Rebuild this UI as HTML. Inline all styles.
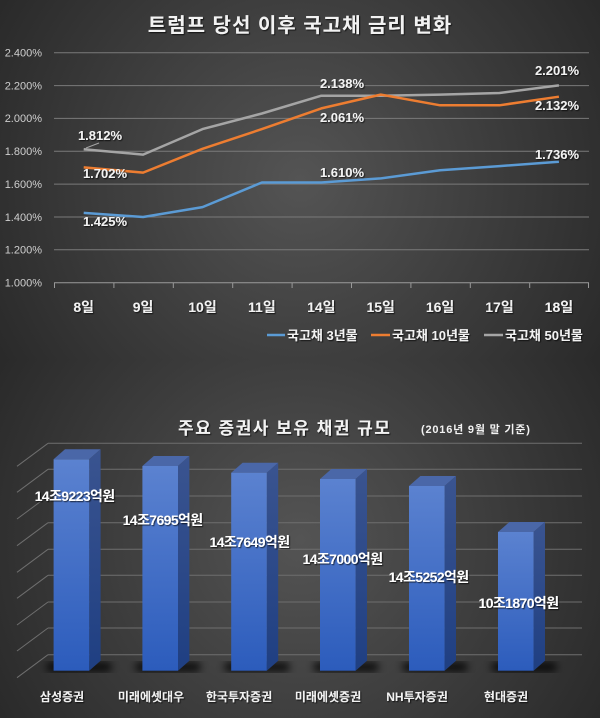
<!DOCTYPE html>
<html><head><meta charset="utf-8"><style>
html,body{margin:0;padding:0;}
body{width:600px;height:718px;overflow:hidden;background:#333;}
svg{display:block;font-family:"Liberation Sans","Noto Sans CJK KR",sans-serif;}
</style></head><body>
<svg width="600" height="718" viewBox="0 0 600 718" xmlns="http://www.w3.org/2000/svg">
<defs>
<radialGradient id="bg1" cx="300" cy="180" r="380" gradientUnits="userSpaceOnUse">
<stop offset="0" stop-color="#545454"/><stop offset="1" stop-color="#262626"/></radialGradient>
<radialGradient id="bg2" cx="300" cy="540" r="380" gradientUnits="userSpaceOnUse">
<stop offset="0" stop-color="#545454"/><stop offset="1" stop-color="#262626"/></radialGradient>
<linearGradient id="front" x1="0" y1="0" x2="0" y2="1"><stop offset="0" stop-color="#5b82d0"/><stop offset="1" stop-color="#2c5cbc"/></linearGradient>
<linearGradient id="side" x1="0" y1="0" x2="0" y2="1"><stop offset="0" stop-color="#3a5490"/><stop offset="1" stop-color="#1f3f82"/></linearGradient>
<filter id="blur"><feGaussianBlur stdDeviation="4"/></filter>
<filter id="ts"><feDropShadow dx="1" dy="1" stdDeviation="0.6" flood-color="#000" flood-opacity="0.7"/></filter>
</defs>
<rect x="0" y="0" width="600" height="360" fill="url(#bg1)"/>
<rect x="0" y="360" width="600" height="358" fill="url(#bg2)"/>

<text x="300" y="32" text-anchor="middle" font-size="20" font-weight="bold" fill="#f2f2f2" filter="url(#ts)" letter-spacing="1">트럼프 당선 이후 국고채 금리 변화</text>
<g stroke="#7a7a7a" stroke-width="1">
<line x1="54" x2="589" y1="52.7" y2="52.7"/><line x1="54" x2="589" y1="85.6" y2="85.6"/>
<line x1="54" x2="589" y1="118.4" y2="118.4"/><line x1="54" x2="589" y1="151.3" y2="151.3"/>
<line x1="54" x2="589" y1="184.1" y2="184.1"/><line x1="54" x2="589" y1="217" y2="217"/>
<line x1="54" x2="589" y1="249.8" y2="249.8"/>
</g>
<g stroke="#9a9a9a" stroke-width="1">
<line x1="54" x2="589" y1="282.7" y2="282.7"/>
<line x1="54.5" x2="54.5" y1="282.7" y2="288"/><line x1="113.9" x2="113.9" y1="282.7" y2="288"/>
<line x1="173.3" x2="173.3" y1="282.7" y2="288"/><line x1="232.7" x2="232.7" y1="282.7" y2="288"/>
<line x1="292.1" x2="292.1" y1="282.7" y2="288"/><line x1="351.5" x2="351.5" y1="282.7" y2="288"/>
<line x1="410.9" x2="410.9" y1="282.7" y2="288"/><line x1="470.3" x2="470.3" y1="282.7" y2="288"/>
<line x1="529.7" x2="529.7" y1="282.7" y2="288"/><line x1="588.5" x2="588.5" y1="282.7" y2="288"/>
</g>
<g font-size="11" fill="#cfcfcf" text-anchor="end">
<text x="42" y="56.5">2.400%</text><text x="42" y="89.4">2.200%</text><text x="42" y="122.2">2.000%</text>
<text x="42" y="155.1">1.800%</text><text x="42" y="187.9">1.600%</text><text x="42" y="220.8">1.400%</text>
<text x="42" y="253.6">1.200%</text><text x="42" y="286.5">1.000%</text>
</g>
<g font-size="14" font-weight="bold" fill="#f2f2f2" text-anchor="middle" filter="url(#ts)">
<text x="83.7" y="312">8일</text><text x="143.1" y="312">9일</text><text x="202.5" y="312">10일</text>
<text x="261.9" y="312">11일</text><text x="321.3" y="312">14일</text><text x="380.7" y="312">15일</text>
<text x="440.1" y="312">16일</text><text x="499.5" y="312">17일</text><text x="558.9" y="312">18일</text>
</g>
<g fill="none" stroke-width="2.5" stroke-linejoin="round">
<polyline stroke="#a5a5a5" points="83.7,149.3 143.1,154.6 202.5,129.1 261.9,113.5 321.3,95.7 380.7,95.7 440.1,94.6 499.5,93 558.9,85.4"/>
<polyline stroke="#ed7d31" points="83.7,167.4 143.1,172.6 202.5,148.8 261.9,129.1 321.3,108.4 380.7,94.6 440.1,105.3 499.5,105.3 558.9,96.7"/>
<polyline stroke="#5b9bd5" points="83.7,212.9 143.1,217 202.5,207.1 261.9,182.5 321.3,182.5 380.7,178.4 440.1,170.2 499.5,166.1 558.9,161.8"/>
</g>
<line x1="86" y1="148" x2="99" y2="143" stroke="#a5a5a5" stroke-width="1"/>
<g font-size="13" font-weight="bold" fill="#f2f2f2" text-anchor="middle" filter="url(#ts)">
<text x="100" y="140">1.812%</text><text x="105" y="178">1.702%</text><text x="105" y="226">1.425%</text>
<text x="342" y="88">2.138%</text><text x="342" y="122">2.061%</text><text x="342" y="177">1.610%</text>
<text x="557" y="75">2.201%</text><text x="557" y="110">2.132%</text><text x="557" y="159">1.736%</text>
</g>
<g stroke-width="2.5">
<line x1="267" x2="285" y1="335" y2="335" stroke="#5b9bd5"/>
<line x1="371" x2="390" y1="335" y2="335" stroke="#ed7d31"/>
<line x1="484" x2="503" y1="335" y2="335" stroke="#a5a5a5"/>
</g>
<g font-size="13" font-weight="bold" fill="#f2f2f2" filter="url(#ts)">
<text x="287" y="340">국고채 3년물</text><text x="392" y="340">국고채 10년물</text><text x="505" y="340">국고채 50년물</text>
</g>

<text x="178" y="434" font-size="17" font-weight="bold" fill="#f2f2f2" filter="url(#ts)" letter-spacing="1.5">주요 증권사 보유 채권 규모</text>
<text x="421" y="433" font-size="11" font-weight="bold" fill="#f2f2f2" letter-spacing="0.8">(2016년 9월 말 기준)</text>
<g stroke="#6e6e6e" stroke-width="1">
<line x1="48" x2="582" y1="443.3" y2="443.3"/><line x1="17" x2="48" y1="466.3" y2="443.3"/>
<line x1="48" x2="582" y1="469.3" y2="469.3"/><line x1="17" x2="48" y1="492.3" y2="469.3"/>
<line x1="48" x2="582" y1="496" y2="496"/><line x1="17" x2="48" y1="519" y2="496"/>
<line x1="48" x2="582" y1="522.7" y2="522.7"/><line x1="17" x2="48" y1="545.7" y2="522.7"/>
<line x1="48" x2="582" y1="549.3" y2="549.3"/><line x1="17" x2="48" y1="572.3" y2="549.3"/>
<line x1="48" x2="582" y1="575.3" y2="575.3"/><line x1="17" x2="48" y1="598.3" y2="575.3"/>
<line x1="48" x2="582" y1="602" y2="602"/><line x1="17" x2="48" y1="625" y2="602"/>
<line x1="48" x2="582" y1="628" y2="628"/><line x1="17" x2="48" y1="651" y2="628"/>
<line x1="48" x2="582" y1="654.7" y2="654.7"/><line x1="17" x2="48" y1="677.7" y2="654.7"/>
</g>
<g fill="#000" opacity="0.75" filter="url(#blur)">
<rect x="46" y="662" width="66" height="10" rx="5"/><rect x="135" y="662" width="66" height="10" rx="5"/>
<rect x="224" y="662" width="66" height="10" rx="5"/><rect x="313" y="662" width="66" height="10" rx="5"/>
<rect x="402" y="662" width="66" height="10" rx="5"/><rect x="491" y="662" width="66" height="10" rx="5"/>
</g>
<g>
<polygon fill="#4a67a8" points="53.6,459.3 65,449.3 100.6,449.3 89.2,459.3"/>
<polygon fill="url(#side)" points="89.2,459.3 100.6,449.3 100.6,660.7 89.2,670.7"/>
<rect x="53.6" y="459.3" width="35.6" height="211.4" fill="url(#front)"/>

<polygon fill="#4a67a8" points="142.4,466 153.8,456 189.4,456 178,466"/>
<polygon fill="url(#side)" points="178,466 189.4,456 189.4,660.7 178,670.7"/>
<rect x="142.4" y="466" width="35.6" height="204.7" fill="url(#front)"/>

<polygon fill="#4a67a8" points="231.2,472.7 242.6,462.7 278.2,462.7 266.8,472.7"/>
<polygon fill="url(#side)" points="266.8,472.7 278.2,462.7 278.2,660.7 266.8,670.7"/>
<rect x="231.2" y="472.7" width="35.6" height="198" fill="url(#front)"/>

<polygon fill="#4a67a8" points="320,479 331.4,469 367,469 355.6,479"/>
<polygon fill="url(#side)" points="355.6,479 367,469 367,660.7 355.6,670.7"/>
<rect x="320" y="479" width="35.6" height="191.7" fill="url(#front)"/>

<polygon fill="#4a67a8" points="409,486 420.4,476 456,476 444.6,486"/>
<polygon fill="url(#side)" points="444.6,486 456,476 456,660.7 444.6,670.7"/>
<rect x="409" y="486" width="35.6" height="184.7" fill="url(#front)"/>

<polygon fill="#4a67a8" points="498,532 509.4,522 545,522 533.6,532"/>
<polygon fill="url(#side)" points="533.6,532 545,522 545,660.7 533.6,670.7"/>
<rect x="498" y="532" width="35.6" height="138.7" fill="url(#front)"/>
</g>
<g font-size="14" font-weight="bold" fill="#fff" text-anchor="middle" filter="url(#ts)" letter-spacing="-0.6">
<text x="74.6" y="501">14조9223억원</text><text x="162.6" y="525">14조7695억원</text>
<text x="249.5" y="547">14조7649억원</text><text x="342.5" y="564">14조7000억원</text>
<text x="428.6" y="582">14조5252억원</text><text x="518.5" y="608">10조1870억원</text>
</g>
<g font-size="12" font-weight="bold" fill="#f2f2f2" text-anchor="middle" filter="url(#ts)">
<text x="62" y="701">삼성증권</text><text x="151" y="701">미래에셋대우</text><text x="239" y="701">한국투자증권</text>
<text x="328" y="701">미래에셋증권</text><text x="417" y="701">NH투자증권</text><text x="506" y="701">현대증권</text>
</g>
</svg>
</body></html>
